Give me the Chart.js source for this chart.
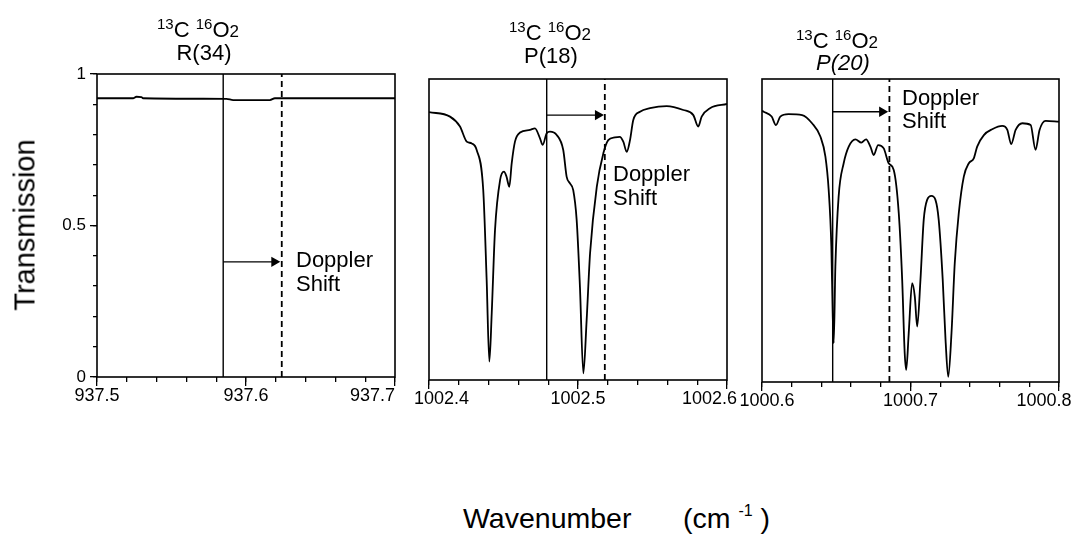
<!DOCTYPE html>
<html>
<head>
<meta charset="utf-8">
<script src="https://cdn.jsdelivr.net/npm/chart.js@4/dist/chart.umd.min.js"></script>
<style>
  body { margin: 0; width: 1080px; height: 538px; position: relative; overflow: hidden; background: #fff;
         font-family: 'Liberation Sans', Arial, sans-serif; color: #000; }
  canvas { position: absolute; top: 0; }
  .t { position: absolute; line-height: 1; white-space: nowrap; }
  .ttl { font-size: 22px; width: 200px; text-align: center; }
  .sp { font-size: 15px; position: relative; top: -8px; }
  .sb { font-size: 17px; }
  .note { font-size: 22px; }
  .axis { font-size: 28.5px; }
</style>
</head>
<body>
<canvas id="p1" width="408" height="430" style="left:37px"></canvas>
<canvas id="p2" width="408" height="430" style="left:369px"></canvas>
<canvas id="p3" width="407" height="430" style="left:702px"></canvas>

<div class="t ttl" style="left:98px;top:19px"><span class="sp">13</span>C <span class="sp">16</span>O<span class="sb">2</span></div>
<div class="t ttl" style="left:104px;top:42px">R(34)</div>
<div class="t ttl" style="left:450px;top:22px"><span class="sp">13</span>C <span class="sp">16</span>O<span class="sb">2</span></div>
<div class="t ttl" style="left:451px;top:45px">P(18)</div>
<div class="t ttl" style="left:737px;top:30px"><span class="sp">13</span>C <span class="sp">16</span>O<span class="sb">2</span></div>
<div class="t ttl" style="left:743px;top:52px;font-style:italic">P(20)</div>

<div class="t note" style="left:296px;top:249px">Doppler</div>
<div class="t note" style="left:296px;top:273px">Shift</div>
<div class="t note" style="left:613px;top:163px">Doppler</div>
<div class="t note" style="left:613px;top:187px">Shift</div>
<div class="t note" style="left:902px;top:87px">Doppler</div>
<div class="t note" style="left:902px;top:110px">Shift</div>

<div class="t" style="left:25px;top:225px;font-size:29px;transform:translate(-50%,-50%) rotate(-90deg)">Transmission</div>
<div class="t axis" style="left:463px;top:504px">Wavenumber</div>
<div class="t axis" style="left:683px;top:504px">(cm <span style="font-size:16px;position:relative;top:-12px">-1</span> )</div>

<script>
// R(34) panel, 937.5 - 937.7 cm-1
const p1Wave = [937.5, 937.5242, 937.5265, 937.5298, 937.5309, 937.5869, 937.5914, 937.616, 937.6194, 937.7];
const p1Trans = [0.920, 0.920, 0.925, 0.924, 0.920, 0.918, 0.914, 0.914, 0.920, 0.920];

// P(18) panel, 1002.4 - 1002.6 cm-1
const p2Wave = [1002.4, 1002.4141, 1002.4208, 1002.4253, 1002.4287, 1002.432, 1002.4364, 1002.4387, 1002.4405,
  1002.4421, 1002.4443, 1002.4477, 1002.4503, 1002.452, 1002.4539, 1002.4555, 1002.4577, 1002.4611, 1002.4678,
  1002.4711, 1002.4745, 1002.4763, 1002.479, 1002.4812, 1002.4857, 1002.4901, 1002.4924, 1002.4946, 1002.4968,
  1002.4991, 1002.5013, 1002.5036, 1002.5058, 1002.5081, 1002.5126, 1002.517, 1002.5203, 1002.5248, 1002.528,
  1002.5304, 1002.5327, 1002.5349, 1002.5371, 1002.5416, 1002.5483, 1002.5595, 1002.5707, 1002.5774, 1002.5807,
  1002.583, 1002.5886, 1002.6];
const p2Trans = [0.890, 0.875, 0.842, 0.792, 0.786, 0.764, 0.631, 0.332, 0.061,
  0.222, 0.498, 0.664, 0.692, 0.676, 0.642, 0.720, 0.792, 0.822, 0.831,
  0.836, 0.803, 0.781, 0.820, 0.825, 0.814, 0.764, 0.675, 0.653, 0.631,
  0.532, 0.310, 0.022, 0.199, 0.421, 0.642, 0.753, 0.797, 0.806, 0.808,
  0.792, 0.758, 0.797, 0.864, 0.891, 0.903, 0.910, 0.897, 0.880, 0.842,
  0.875, 0.903, 0.917];

// P(20) panel, 1000.6 - 1000.8 cm-1
const p3Wave = [1000.6, 1000.6011, 1000.6065, 1000.6094, 1000.6123, 1000.6179, 1000.627, 1000.6337, 1000.6393,
  1000.6427, 1000.6449, 1000.6467, 1000.6476, 1000.6483, 1000.6494, 1000.6516, 1000.655, 1000.6584, 1000.6629,
  1000.6669, 1000.6701, 1000.673, 1000.6752, 1000.6782, 1000.682, 1000.6853, 1000.6887, 1000.6921, 1000.6944,
  1000.6961, 1000.6971, 1000.6988, 1000.7011, 1000.7029, 1000.7045, 1000.7067, 1000.7089, 1000.7112, 1000.7141,
  1000.7168, 1000.719, 1000.7217, 1000.7236, 1000.7254, 1000.7276, 1000.7298, 1000.7325, 1000.7359, 1000.7393,
  1000.7426, 1000.7449, 1000.7494, 1000.755, 1000.7618, 1000.7652, 1000.7678, 1000.7708, 1000.7753, 1000.7809,
  1000.7842, 1000.7869, 1000.791, 1000.8];
const p3Trans = [0.895, 0.892, 0.876, 0.848, 0.876, 0.884, 0.881, 0.854, 0.810,
  0.744, 0.634, 0.447, 0.227, 0.128, 0.380, 0.612, 0.722, 0.777, 0.801,
  0.790, 0.801, 0.777, 0.749, 0.782, 0.771, 0.722, 0.700, 0.557, 0.337,
  0.095, 0.040, 0.161, 0.326, 0.282, 0.183, 0.337, 0.535, 0.601, 0.614,
  0.601, 0.535, 0.337, 0.139, 0.017, 0.161, 0.392, 0.557, 0.678, 0.722,
  0.738, 0.777, 0.815, 0.834, 0.845, 0.832, 0.785, 0.832, 0.854, 0.848,
  0.766, 0.832, 0.862, 0.859];

// laser line (solid), Doppler-shifted line (dashed), arrow
const lineCenter = [937.5847, 1002.479, 1000.6476];
const shiftedCenter = [937.624, 1002.518, 1000.6858];
const arrowTip = [937.619, 1002.5134, 1000.6809];
const arrowLevel = [0.38, 0.88, 0.892];
const xRanges = [[937.5, 937.7], [1002.4, 1002.6], [1000.6, 1000.8]];
const yTickLabels = ['0', '0.5', '1'];

Chart.defaults.font.family = "'Liberation Sans', Arial, sans-serif";
Chart.defaults.color = '#000';

// first / last x label nudge, in spaces (+ = pushed right, - = pushed left)
const edgeNudge = [[0, -9], [5, -7], [2, -6]];

function nudge(text, n) {
  const pad = ' '.repeat(Math.abs(n));
  return n > 0 ? pad + text : text + pad;
}

const framePlugin = {
  id: 'frame',
  afterDatasetsDraw(chart) {
    const { ctx, chartArea: a } = chart;
    ctx.save();
    ctx.strokeStyle = '#000';
    ctx.lineWidth = 1.6;
    ctx.strokeRect(a.left, a.top, a.right - a.left, a.bottom - a.top);
    ctx.restore();
  }
};

function makePanel(id, i, wave, trans, box) {
  const [min, max] = xRanges[i];
  const tick = { drawOnChartArea: false, color: '#000', lineWidth: 1.3 };
  const showY = i === 0;
  const scales = {
    x: {
      type: 'linear', position: 'bottom', min, max, weight: 1,
      afterFit: s => { s.height = 40; },
      border: { display: false },
      grid: { ...tick, tickLength: 9 },
      ticks: {
        stepSize: 0.1, padding: -1, maxRotation: 0, font: { size: 18 },
        callback: (v, k, all) => {
          const label = v.toFixed(1);
          if (k === 0) return nudge(label, edgeNudge[i][0]);
          if (k === all.length - 1) return nudge(label, edgeNudge[i][1]);
          return label;
        }
      }
    },
    xMinor: {
      type: 'linear', position: 'bottom', min, max, weight: 0,
      afterFit: s => { s.height = 0; },
      border: { display: false },
      grid: { ...tick, tickLength: 5 },
      ticks: { display: false, stepSize: 0.02 }
    },
    y: {
      min: 0, max: 1, display: showY, weight: 1,
      afterFit: s => { s.width = showY ? 50 : 0; },
      border: { display: false },
      grid: { ...tick, tickLength: 7 },
      ticks: { stepSize: 0.5, padding: 4, font: { size: 17 }, callback: v => yTickLabels[Math.round(v * 2)] }
    },
    yMinor: {
      min: 0, max: 1, display: showY, position: 'left', weight: 0,
      afterFit: s => { s.width = 0; },
      border: { display: false },
      grid: { ...tick, tickLength: 4 },
      ticks: { display: false, stepSize: 0.1 }
    }
  };
  const canvasHeight = 430;
  new Chart(document.getElementById(id), {
    type: 'line',
    data: {
      datasets: [
        {
          data: wave.map((w, k) => ({ x: w, y: trans[k] })),
          borderColor: '#000', borderWidth: 1.8, pointRadius: 0, cubicInterpolationMode: 'monotone'
        },
        {
          data: [{ x: lineCenter[i], y: 0 }, { x: lineCenter[i], y: 1 }],
          borderColor: '#000', borderWidth: 1.4, pointRadius: 0
        },
        {
          data: [{ x: shiftedCenter[i], y: 0 }, { x: shiftedCenter[i], y: 1 }],
          borderColor: '#000', borderWidth: 1.8, borderDash: [6, 4], pointRadius: 0
        },
        {
          data: [{ x: lineCenter[i], y: arrowLevel[i] }, { x: arrowTip[i], y: arrowLevel[i] }],
          borderColor: '#000', borderWidth: 1.4, backgroundColor: '#000',
          pointStyle: 'triangle', pointRadius: [0, 6], pointRotation: [0, 90], pointBorderWidth: 0
        }
      ]
    },
    options: {
      responsive: false,
      animation: false,
      layout: {
        autoPadding: false,
        padding: { left: box.padLeft, right: 50, top: box.top, bottom: canvasHeight - 40 - box.bottom }
      },
      plugins: { legend: { display: false }, tooltip: { enabled: false } },
      scales
    },
    plugins: [framePlugin]
  });
}

makePanel('p1', 0, p1Wave, p1Trans, { padLeft: 10, top: 74, bottom: 377 });
makePanel('p2', 1, p2Wave, p2Trans, { padLeft: 60, top: 79, bottom: 380 });
makePanel('p3', 2, p3Wave, p3Trans, { padLeft: 60, top: 79, bottom: 382 });
</script>
</body>
</html>
